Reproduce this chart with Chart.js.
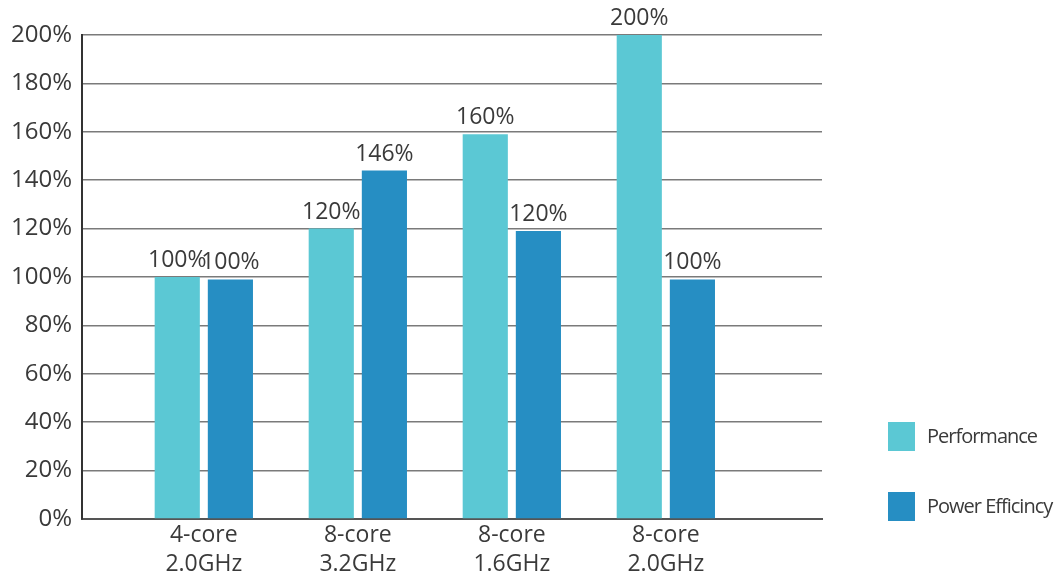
<!DOCTYPE html>
<html>
<head>
<meta charset="utf-8">
<script src="https://cdn.jsdelivr.net/npm/chart.js@4.4.0/dist/chart.umd.min.js"></script>
<style>
  html, body { margin: 0; padding: 0; background: #fff; }
  #wrap { width: 1061px; height: 581px; position: relative; }
</style>
</head>
<body>
<div id="wrap"><canvas id="myBarChart"></canvas></div>
<script>
// chart data
const categories = [['4-core', '2.0GHz'], ['8-core', '3.2GHz'], ['8-core', '1.6GHz'], ['8-core', '2.0GHz']];
const performance = [100, 120, 159, 200];
const powerEfficiency = [99, 144, 119, 99];
const performanceLabels = ['100%', '120%', '160%', '200%'];
const powerLabels = ['100%', '146%', '120%', '100%'];
const yTicks = [0, 20, 40, 60, 80, 100, 120, 140, 160, 180, 200];

const textColor = '#3a3a3a';
const fontFamily = '"Open Sans", "DejaVu Sans", sans-serif';

// value labels above each bar
const valueLabels = {
    id: 'valueLabels',
    afterDatasetsDraw(chart) {
        const ctx = chart.ctx;
        ctx.save();
        ctx.font = '23px ' + fontFamily;
        ctx.fillStyle = textColor;
        ctx.textAlign = 'center';
        ctx.textBaseline = 'bottom';
        chart.data.datasets.forEach((ds, di) => {
            chart.getDatasetMeta(di).data.forEach((bar, i) => {
                ctx.fillText(ds.valueLabels[i], bar.x, bar.y - 5);
            });
        });
        ctx.restore();
    }
};

// legend drawn at the right side
const sideLegend = {
    id: 'sideLegend',
    afterDraw(chart) {
        const ctx = chart.ctx;
        ctx.save();
        ctx.font = '20px ' + fontFamily;
        ctx.letterSpacing = '-1px';
        ctx.textBaseline = 'middle';
        chart.data.datasets.forEach((ds, i) => {
            const top = 422 + i * 70;
            ctx.fillStyle = ds.backgroundColor;
            ctx.fillRect(888, top, 27, 29);
            ctx.fillStyle = textColor;
            ctx.fillText(ds.label, 927, top + 15);
        });
        ctx.restore();
    }
};

const ctx = document.getElementById('myBarChart').getContext('2d');
const myBarChart = new Chart(ctx, {
    type: 'bar',
    data: {
        datasets: [{
            label: 'Performance',
            data: performance.map((v, i) => ({ x: i + 1, y: v })),
            valueLabels: performanceLabels,
            backgroundColor: '#5bc8d4'
        }, {
            label: 'Power Efficincy',
            data: powerEfficiency.map((v, i) => ({ x: i + 1, y: v })),
            valueLabels: powerLabels,
            backgroundColor: '#268ec3'
        }]
    },
    options: {
        responsive: true,
        maintainAspectRatio: false,
        animation: false,
        categoryPercentage: 0.69,
        barPercentage: 0.85,
        layout: { padding: { top: 35, left: 1, right: 239, bottom: 0 } },
        plugins: {
            legend: { display: false },
            tooltip: { enabled: false }
        },
        scales: {
            x: {
                type: 'linear',
                offset: false,
                min: 0.209,
                max: 5.014,
                afterBuildTicks: (scale) => {
                    scale.ticks = categories.map((c, i) => ({ value: i + 1 }));
                },
                grid: { display: false, drawTicks: false, offset: false },
                border: { color: '#555', width: 2 },
                ticks: {
                    autoSkip: false,
                    maxRotation: 0,
                    padding: 2,
                    color: textColor,
                    font: { family: fontFamily, size: 23, lineHeight: 1.26 },
                    callback: (v) => categories[v - 1]
                }
            },
            y: {
                min: 0,
                max: 200,
                afterBuildTicks: (scale) => {
                    scale.ticks = yTicks.map((v) => ({ value: v }));
                },
                grid: { color: '#7a7a7a', lineWidth: 1.5, drawTicks: false },
                border: { color: '#333', width: 2 },
                ticks: {
                    padding: 10,
                    color: textColor,
                    font: { family: fontFamily, size: 24 },
                    callback: (v) => v + '%'
                }
            }
        }
    },
    plugins: [valueLabels, sideLegend]
});
</script>
</body>
</html>
